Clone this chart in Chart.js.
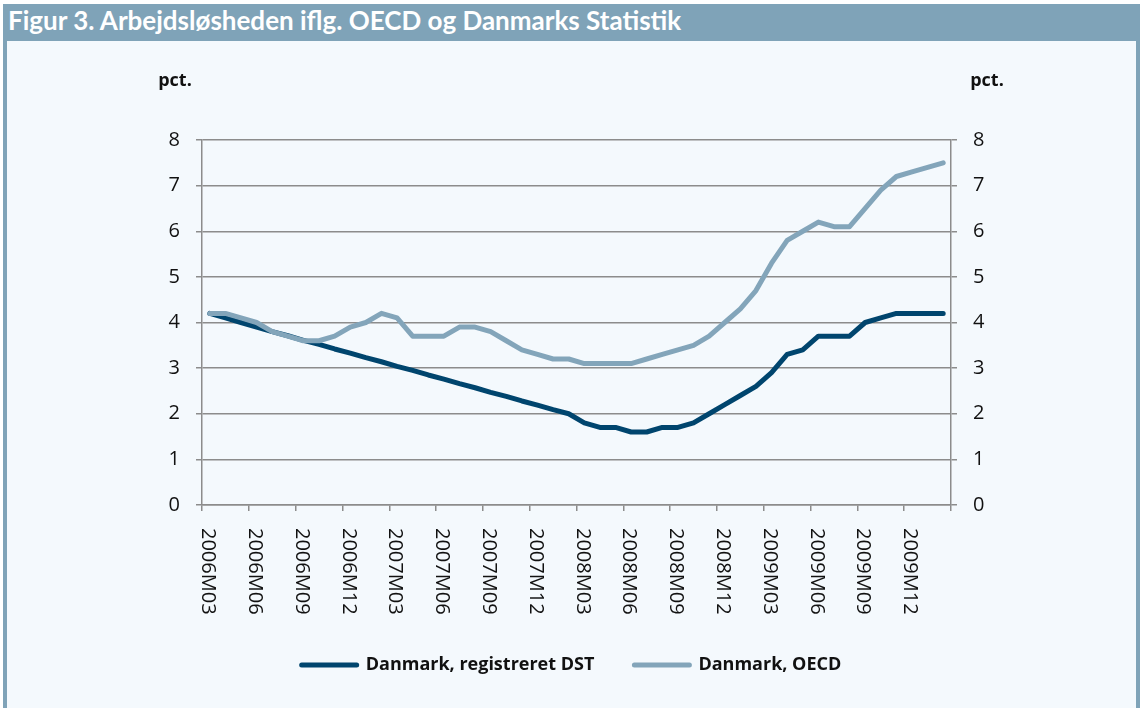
<!DOCTYPE html>
<html lang="da">
<head>
<meta charset="UTF-8">
<title>Figur 3</title>
<script src="https://cdn.jsdelivr.net/npm/chart.js@4"></script>
<style>
  html, body { margin: 0; padding: 0; background: #fff; }
  #frame { position: absolute; left: 3px; top: 4px; width: 1137px; height: 704px; background: #7fa3b8; }
  #title { position: absolute; left: 5px; top: 0; height: 37px; line-height: 37px; color: #fff;
           font: bold 26px Lato, sans-serif; white-space: nowrap; }
  #wrap { position: absolute; left: 4px; top: 37px; width: 1129px; height: 667px; background: #f4f9fd; }
</style>
</head>
<body>
<div id="frame">
  <div id="title">Figur 3. Arbejdsløsheden iflg. OECD og Danmarks Statistik</div>
  <div id="wrap"><canvas id="chart"></canvas></div>
</div>
<script>
// months 2006M03 .. 2010M02
const months = [
  "2006M03","2006M04","2006M05","2006M06","2006M07","2006M08","2006M09","2006M10","2006M11","2006M12",
  "2007M01","2007M02","2007M03","2007M04","2007M05","2007M06","2007M07","2007M08","2007M09","2007M10","2007M11","2007M12",
  "2008M01","2008M02","2008M03","2008M04","2008M05","2008M06","2008M07","2008M08","2008M09","2008M10","2008M11","2008M12",
  "2009M01","2009M02","2009M03","2009M04","2009M05","2009M06","2009M07","2009M08","2009M09","2009M10","2009M11","2009M12",
  "2010M01","2010M02"
];
const dstValues = [
  4.2, 4.1, 4.0, 3.9, 3.8, 3.71, 3.61, 3.52, 3.42, 3.33, 3.23, 3.14, 3.04, 2.95, 2.85, 2.76,
  2.66, 2.57, 2.47, 2.38, 2.28, 2.19, 2.09, 2.0, 1.8, 1.7, 1.7, 1.6, 1.6, 1.7, 1.7, 1.8,
  2.0, 2.2, 2.4, 2.6, 2.9, 3.3, 3.4, 3.7, 3.7, 3.7, 4.0, 4.1, 4.2, 4.2, 4.2, 4.2
];
const oecdValues = [
  4.2, 4.2, 4.1, 4.0, 3.8, 3.7, 3.6, 3.6, 3.7, 3.9, 4.0, 4.2, 4.1, 3.7, 3.7, 3.7,
  3.9, 3.9, 3.8, 3.6, 3.4, 3.3, 3.2, 3.2, 3.1, 3.1, 3.1, 3.1, 3.2, 3.3, 3.4, 3.5,
  3.7, 4.0, 4.3, 4.7, 5.3, 5.8, 6.0, 6.2, 6.1, 6.1, 6.5, 6.9, 7.2, 7.3, 7.4, 7.5
];
const seriesNames = ["Danmark, registreret DST", "Danmark, OECD"];
const unitLabel = "pct.";

const gridColor = "#8c8c8c";
const dstColor = "#00456e";
const oecdColor = "#83a5ba";

Chart.defaults.font.family = '"Open Sans", sans-serif';
Chart.defaults.color = "#111";

// x labels run top-to-bottom, so they are drawn here
const extras = {
  id: "extras",
  afterDraw(chart) {
    const { ctx, chartArea } = chart;
    const x = chart.scales.x;
    ctx.save();
    ctx.fillStyle = "#111";
    ctx.font = '20px "Open Sans", sans-serif';
    ctx.textAlign = "left";
    ctx.textBaseline = "middle";
    months.forEach((m, i) => {
      if (i % 3) return;
      ctx.save();
      ctx.translate(x.getPixelForValue(i) - 2, x.top + 23);
      ctx.rotate(Math.PI / 2);
      ctx.fillText(m, 0, 0);
      ctx.restore();
    });
    ctx.font = 'bold 18px "Open Sans", sans-serif';
    ctx.textAlign = "center";
    ctx.textBaseline = "alphabetic";
    ctx.fillText(unitLabel, chartArea.left - 27, 45);
    ctx.fillText(unitLabel, chartArea.right + 36, 45);
    ctx.restore();
  }
};

new Chart(document.getElementById("chart"), {
  type: "line",
  data: {
    labels: months,
    datasets: [
      {
        label: seriesNames[1],
        data: oecdValues,
        borderColor: oecdColor,
        backgroundColor: oecdColor,
        borderWidth: 5,
        borderCapStyle: "round",
        borderJoinStyle: "round",
        pointRadius: 0,
        tension: 0,
        yAxisID: "y"
      },
      {
        label: seriesNames[0],
        data: dstValues,
        borderColor: dstColor,
        backgroundColor: dstColor,
        borderWidth: 5,
        borderCapStyle: "round",
        borderJoinStyle: "round",
        pointRadius: 0,
        tension: 0,
        yAxisID: "y"
      }
    ]
  },
  options: {
    responsive: true,
    maintainAspectRatio: false,
    animation: false,
    layout: { padding: { top: 99, bottom: 24, left: 0, right: 0 } },
    plugins: {
      tooltip: { enabled: false },
      legend: {
        position: "bottom",
        reverse: true,
        labels: {
          usePointStyle: true,
          pointStyle: "line",
          pointStyleWidth: 55,
          padding: 40,
          color: "#111",
          font: { size: 18, weight: "bold" },
          generateLabels(chart) {
            return Chart.defaults.plugins.legend.labels.generateLabels(chart).map(l => {
              const ds = chart.data.datasets[l.datasetIndex];
              l.strokeStyle = ds.borderColor;
              l.lineWidth = 5;
              l.lineCap = "round";
              return l;
            });
          }
        }
      }
    },
    scales: {
      x: {
        offset: true,
        afterFit(s) { s.height = 111; },
        grid: {
          offset: true,
          drawOnChartArea: false,
          tickLength: 6,
          lineWidth: 1.5,
          color: gridColor,
          tickColor: c => (c.index === undefined || c.index % 3 === 0) ? gridColor : "rgba(0,0,0,0)"
        },
        border: { color: gridColor, width: 1.5 },
        ticks: { display: false, autoSkip: false }
      },
      y: {
        position: "left",
        min: 0,
        max: 8,
        afterFit(s) { s.width = 195; },
        ticks: { stepSize: 1, padding: 16, font: { size: 20 }, color: "#111" },
        grid: { color: gridColor, lineWidth: 1.5, tickLength: 6 },
        border: { color: gridColor, width: 1.5 }
      },
      y2: {
        position: "right",
        min: 0,
        max: 8,
        afterFit(s) { s.width = 185; },
        ticks: { stepSize: 1, padding: 16, font: { size: 20 }, color: "#111" },
        grid: { drawOnChartArea: false, color: gridColor, lineWidth: 1.5, tickLength: 6 },
        border: { color: gridColor, width: 1.5 }
      }
    }
  },
  plugins: [extras]
});
</script>
</body>
</html>
